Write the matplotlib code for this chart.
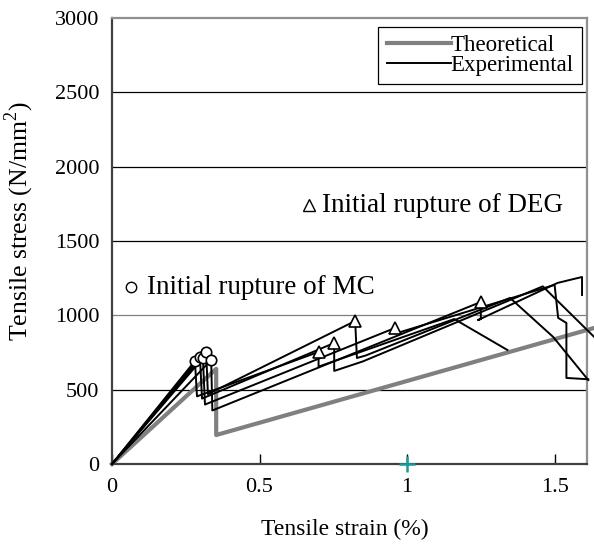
import matplotlib
matplotlib.use('Agg')
import matplotlib.pyplot as plt

# Datos del ensayo
theo_strain = [0, 0.353, 0.353, 1.634]
theo_stress = [0, 640, 195, 915]

# Curvas experimentales (deformación %, tensión N/mm2)
exp_strain = [
    [0, 0.281, 0.288, 0.70, 0.70, 1.16, 1.34],
    [0, 0.298, 0.305, 0.753, 0.753, 0.85, 1.46, 1.634],
    [0, 0.319, 0.325, 0.824, 0.83, 0.86, 1.349, 1.495, 1.614],
    [0, 0.308, 0.315, 0.959, 0.965, 1.50, 1.512, 1.54, 1.54, 1.614],
    [0, 0.336, 0.34, 1.25, 1.25, 1.24, 1.51, 1.593, 1.593],
]
exp_stress = [
    [0, 693, 455, 754, 655, 975, 767],
    [0, 720, 440, 814, 626, 690, 1195, 855],
    [0, 754, 470, 962, 713, 730, 1117, 855, 565],
    [0, 713, 400, 915, 880, 1205, 983, 949, 579, 570],
    [0, 700, 360, 1090, 975, 968, 1218, 1258, 1137],
]

# Rotura inicial de MC (círculos) y de DEG (triángulos)
mc_strain = [0.281, 0.298, 0.308, 0.319, 0.336]
mc_stress = [693, 720, 713, 754, 700]
deg_strain = [0.70, 0.753, 0.824, 0.959, 1.25]
deg_stress = [754, 814, 962, 915, 1090]

yticks = [0, 500, 1000, 1500, 2000, 2500, 3000]
xticks = [0, 0.5, 1, 1.5]
xticklabels = ['0', '0.5', '1', '1.5']

plt.rcParams['font.family'] = ['Liberation Serif', 'DejaVu Serif']
plt.rcParams['mathtext.fontset'] = 'custom'
plt.rcParams['mathtext.rm'] = 'Liberation Serif'


def main():
    fig = plt.figure(figsize=(5.94, 5.52), dpi=100)
    ax = fig.add_axes([0.1886, 0.1594, 0.7997, 0.808])

    for yv in yticks[1:-1]:
        ax.axhline(yv, color='#808080' if yv == 1000 else 'black', lw=0.9, zorder=1)

    for i, (xs, ys) in enumerate(zip(exp_strain, exp_stress)):
        ax.plot(xs, ys, color='black', lw=1.4, clip_on=False, zorder=3,
                label='Experimental' if i == 0 else None)
    ax.plot(theo_strain, theo_stress, color='#808080', lw=3, clip_on=False,
            zorder=2, label='Theoretical')

    ax.plot(mc_strain, mc_stress, 'o', ms=7.5, mfc='white', mec='black', mew=1.2, zorder=4)
    ax.plot(deg_strain, deg_stress, '^', ms=9, mfc='white', mec='black', mew=1.2, zorder=4)

    # Anotaciones
    ax.plot([0.064], [1190], 'o', ms=7.5, mfc='white', mec='black', mew=1.0, clip_on=False)
    ax.text(0.119, 1190, 'Initial rupture of MC', fontsize=19.5, va='center', ha='left')
    ax.plot([0.668], [1742], '^', ms=9, mfc='white', mec='black', mew=1.0, clip_on=False)
    ax.text(0.712, 1742, 'Initial rupture of DEG', fontsize=19.5, va='center', ha='left')

    ax.plot([1], [0], '+', ms=11, mew=1.8, color='#1a9a9a', clip_on=False, zorder=5)

    ax.set_xlim(0, 1.61)
    ax.set_ylim(0, 3000)
    ax.set_xticks(xticks)
    ax.set_xticklabels(xticklabels)
    ax.set_yticks(yticks)
    ax.tick_params(axis='x', direction='in', length=7, width=1, labelsize=16, pad=10)
    ax.tick_params(axis='y', direction='in', length=0, labelsize=16, pad=9)

    for side in ['left', 'bottom']:
        ax.spines[side].set_color('#404040')
        ax.spines[side].set_linewidth(1.6)
    for side in ['top', 'right']:
        ax.spines[side].set_color('#909090')
        ax.spines[side].set_linewidth(1.6)

    ax.set_xlabel('Tensile strain (%)', fontsize=17)
    ax.xaxis.set_label_coords(0.49, -0.122)
    ax.set_ylabel('Tensile stress (N/mm$^{2}$)', fontsize=18.5)
    ax.yaxis.set_label_coords(-0.16, 0.545)

    handles, labels = ax.get_legend_handles_labels()
    leg = ax.legend(handles[::-1], labels[::-1], loc='upper right', fontsize=16.5,
                    frameon=True, fancybox=False, edgecolor='black', framealpha=1,
                    handlelength=2.8, handletextpad=0.0, borderpad=0.35,
                    labelspacing=-0.05, borderaxespad=0,
                    bbox_to_anchor=(0.989, 0.98))
    leg.get_frame().set_linewidth(0.9)

    fig.savefig('out.png', dpi=100)


if __name__ == '__main__':
    main()
